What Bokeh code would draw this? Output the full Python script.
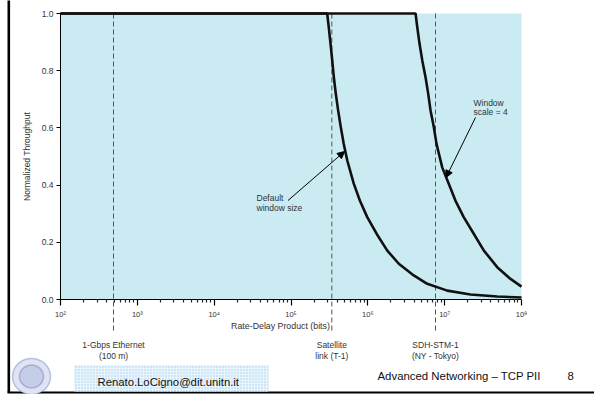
import numpy as np
from bokeh.plotting import figure
from bokeh.models import (Range1d, FixedTicker, Label, Arrow, NormalHead,
                          BoxAnnotation, PolyAnnotation, PrintfTickFormatter,
                          LogAxis, LinearAxis)
from bokeh.core.properties import value
from bokeh.embed import file_html
from bokeh.resources import INLINE

# ---------------- data ----------------
rd_ticks = [1e2, 1e3, 1e4, 1e5, 1e6, 1e7, 1e8]
rd_tick_labels = ["10²", "10³", "10⁴", "10⁵", "10⁶", "10⁷", "10⁸"]
thr_ticks = [0.0, 0.2, 0.4, 0.6, 0.8, 1.0]

# Default window size
rd_default = [1e2, 2.96e5, 3.10e5, 3.27e5, 3.44e5, 3.61e5, 3.83e5, 4.11e5, 4.45e5,
              4.86e5, 5.40e5, 6.56e5, 7.87e5, 9.82e5, 1.30e6, 1.79e6, 2.53e6,
              3.96e6, 5.93e6, 1.08e7, 2.17e7, 4.83e7, 1e8]
thr_default = [1.0, 1.0, 0.952, 0.894, 0.836, 0.777, 0.719, 0.661, 0.602,
               0.544, 0.486, 0.405, 0.346, 0.288, 0.230, 0.171, 0.125,
               0.084, 0.055, 0.031, 0.0175, 0.0105, 0.007]

# Window scale = 4
rd_wscale = [1e2, 4.18e6, 4.40e6, 4.71e6, 5.11e6, 5.64e6, 6.11e6, 6.55e6, 7.23e6,
             7.83e6, 9.29e6, 1.13e7, 1.38e7, 1.77e7, 2.39e7, 3.24e7, 4.83e7,
             7.19e7, 1e8]
thr_wscale = [1.0, 1.0, 0.952, 0.894, 0.836, 0.777, 0.719, 0.661, 0.602,
              0.544, 0.462, 0.405, 0.346, 0.288, 0.230, 0.171, 0.113,
              0.072, 0.045]

# Reference links (rate-delay products)
link_rd = [4.9e2, 3.4e5, 7.6e6]
link_line1 = ["1-Gbps Ethernet", "Satellite", "SDH-STM-1"]
link_line2 = ["(100 m)", "link (T-1)", "(NY - Tokyo)"]

# ---------------- layout helpers (page pixel -> data space) ----------------
W, H = 594, 394
X_LEFT, X_RIGHT, Y_BOTTOM, Y_TOP = 60.0, 521.0, 299.0, 13.0   # chart area on the page
DEC = (X_RIGHT - X_LEFT) / 6.0
YS = Y_BOTTOM - Y_TOP
def px2x(px):
    return 10 ** (2 + (px - X_LEFT) / DEC)
def py2y(py):
    return (Y_BOTTOM - py) / YS

FONT = "Liberation Sans"
TXT = "#333333"

p = figure(width=W, height=H, x_axis_type="log",
           x_range=Range1d(px2x(0), px2x(W)), y_range=Range1d(py2y(H), py2y(0)),
           x_axis_location=None, y_axis_location=None,
           output_backend="svg", toolbar_location=None,
           min_border=0, min_border_left=0, min_border_right=0,
           min_border_top=0, min_border_bottom=0)
p.outline_line_color = None
p.background_fill_color = "white"
p.border_fill_color = "white"
p.grid.visible = False

# plot background (0..1)
p.add_layout(BoxAnnotation(left=rd_ticks[0], right=rd_ticks[-1], bottom=0, top=1,
                           fill_color="#cbebf2", fill_alpha=1.0,
                           line_color=None, level="underlay"))

# axes placed at the chart's data origin
xa = LogAxis(fixed_location=0, bounds=(rd_ticks[0], rd_ticks[-1]))
xa.ticker = FixedTicker(ticks=rd_ticks,
                        minor_ticks=[k * t for t in rd_ticks[:-1] for k in range(2, 10)])
xa.major_label_overrides = {t: l for t, l in zip(rd_ticks, rd_tick_labels)}
xa.major_tick_in = 0
xa.major_tick_out = 6
xa.minor_tick_in = 0
xa.minor_tick_out = 3
xa.axis_line_color = "black"
xa.major_tick_line_color = "black"
xa.minor_tick_line_color = "#222222"
xa.major_tick_line_width = 1.2
xa.minor_tick_line_width = 1.2
xa.major_label_text_font = FONT
xa.major_label_text_font_size = "7.5px"
xa.major_label_text_color = TXT
xa.major_label_standoff = 4
p.add_layout(xa, "below")

ya = LinearAxis(fixed_location=rd_ticks[0], bounds=(0, 1))
ya.ticker = FixedTicker(ticks=thr_ticks, minor_ticks=[])
ya.formatter = PrintfTickFormatter(format="%.1f")
ya.major_tick_in = 0
ya.major_tick_out = 4
ya.major_tick_line_width = 1.2
ya.minor_tick_line_color = None
ya.axis_line_color = "black"
ya.major_tick_line_color = "black"
ya.major_label_text_font = FONT
ya.major_label_text_font_size = "8.5px"
ya.major_label_text_color = TXT
ya.major_label_standoff = 3
ya.axis_label = "Normalized Throughput"
ya.axis_label_text_font = FONT
ya.axis_label_text_font_style = "normal"
ya.axis_label_text_font_size = "8.5px"
ya.axis_label_text_color = TXT
ya.axis_label_standoff = 7
p.add_layout(ya, "left")

# dashed reference lines (extending below the axis) + labels
link_bottom = py2y(333)
p.segment(x0=link_rd, y0=[1.0] * len(link_rd), x1=link_rd, y1=[link_bottom] * len(link_rd),
          line_color="#555555", line_width=1, line_dash="5 3")
p.text(x=link_rd, y=[py2y(344)] * len(link_rd), text=link_line1,
       text_align="center", text_baseline="middle", text_font=value(FONT),
       text_font_size="8.5px", text_color=TXT)
p.text(x=link_rd, y=[py2y(355.5)] * len(link_rd), text=link_line2,
       text_align="center", text_baseline="middle", text_font=value(FONT),
       text_font_size="8.5px", text_color=TXT)

# curves
p.line(rd_default, thr_default, line_color="#111111", line_width=2.6)
p.line(rd_wscale, thr_wscale, line_color="#111111", line_width=2.6)

# x axis title
p.add_layout(Label(x=px2x(280), y=py2y(325), text="Rate-Delay Product (bits)",
                   text_align="center", text_baseline="middle",
                   text_font=FONT, text_font_size="8.8px", text_color=TXT))

# annotations with arrows
head = dict(size=7, fill_color="black", line_color="black", line_width=1)
p.add_layout(Arrow(end=NormalHead(**head), x_start=px2x(287.5), y_start=py2y(200),
                   x_end=px2x(344), y_end=py2y(151), line_color="black", line_width=1))
p.add_layout(Label(x=px2x(256), y=py2y(197.7), text="Default", text_baseline="middle",
                   text_font=FONT, text_font_size="8.5px", text_color=TXT))
p.add_layout(Label(x=px2x(256), y=py2y(207.7), text="window size", text_baseline="middle",
                   text_font=FONT, text_font_size="8.5px", text_color=TXT))

p.add_layout(Arrow(end=NormalHead(**head), x_start=px2x(475), y_start=py2y(117),
                   x_end=px2x(445.5), y_end=py2y(177), line_color="black", line_width=1))
p.add_layout(Label(x=px2x(473), y=py2y(102.3), text="Window", text_baseline="middle",
                   text_font=FONT, text_font_size="8.5px", text_color=TXT))
p.add_layout(Label(x=px2x(473), y=py2y(111.3), text="scale = 4", text_baseline="middle",
                   text_font=FONT, text_font_size="8.5px", text_color=TXT))

# ---------------- slide decoration ----------------
p.add_layout(Arrow(start=None, end=None, x_start=px2x(8.3), y_start=py2y(-2),
                   x_end=px2x(8.3), y_end=py2y(392), line_color="black", line_width=2.6))
p.add_layout(Arrow(start=None, end=None, x_start=px2x(7.0), y_start=py2y(392),
                   x_end=px2x(600), y_end=py2y(392), line_color="black", line_width=2))

# logo (simple seal)
t = np.linspace(0, 2 * np.pi, 60)
for r, fc in [(19, "#dfe3f3"), (12, "#c5cde9")]:
    p.add_layout(PolyAnnotation(xs=[px2x(31 + r * np.cos(a)) for a in t],
                                ys=[py2y(376 + r * 0.95 * np.sin(a)) for a in t],
                                fill_color=fc, fill_alpha=1, line_color="#3a4ea0",
                                line_width=1.5))

# email box
p.add_layout(BoxAnnotation(left=px2x(74), right=px2x(268), top=py2y(365), bottom=py2y(391),
                           fill_color="#cfe6f8", fill_alpha=1, line_color=None,
                           hatch_pattern="+", hatch_color="#eef7fd", hatch_scale=3,
                           hatch_weight=0.8, level="annotation"))
p.add_layout(Label(x=px2x(97), y=py2y(381.5), text="Renato.LoCigno@dit.unitn.it",
                   text_baseline="middle", text_font=FONT, text_font_size="11.3px",
                   text_color="#111111"))
p.add_layout(Label(x=px2x(377), y=py2y(375), text="Advanced Networking – TCP PII",
                   text_baseline="middle", text_font=FONT, text_font_size="11.4px",
                   text_color="#111111"))
p.add_layout(Label(x=px2x(567), y=py2y(375), text="8",
                   text_baseline="middle", text_font=FONT, text_font_size="11.4px",
                   text_color="#111111"))

open("out.html", "w").write(file_html(p, INLINE))
